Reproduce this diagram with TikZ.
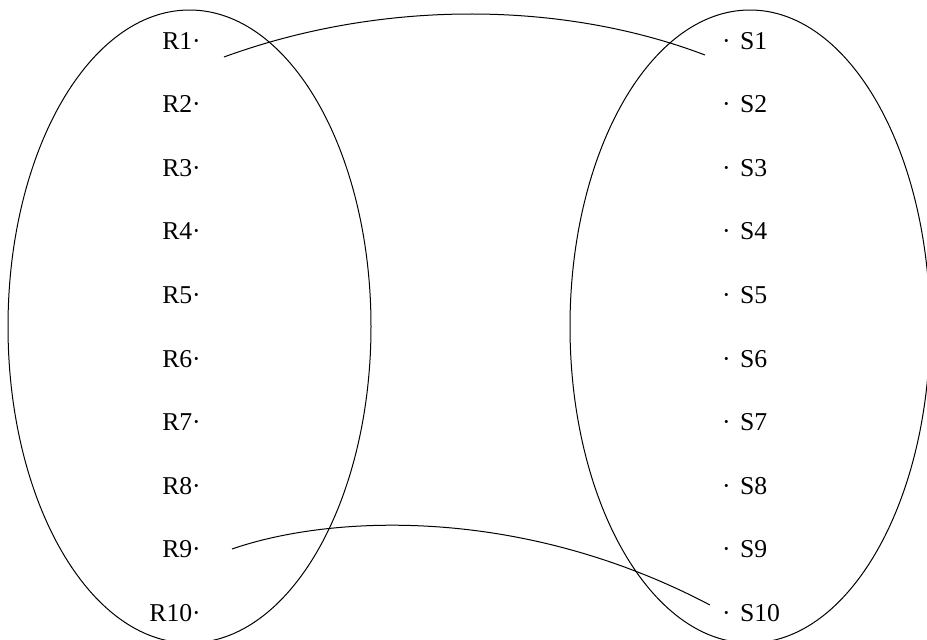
\documentclass[tikz,border=0pt]{standalone}
\usepackage{fontspec}
\setmainfont{Liberation Serif}
\tikzset{
  setline/.style={line width=1pt, draw=black},
  link/.style={line width=1pt, draw=black},
  elemtext/.style={inner sep=0pt, font=\fontsize{25.7}{30}\selectfont},
}

\begin{document}
\begin{tikzpicture}[x=1pt, y=-1pt]
  \clip (0,0) rectangle (927,640);
  % the two sets
  \draw[setline] (189.5,326.5) ellipse [x radius=181.5pt, y radius=316.5pt];
  \draw[setline] (750,326.5) ellipse [x radius=180pt, y radius=316.5pt];
  % elements R1..R10 and S1..S10
  \foreach \i in {1,...,10}{
    \pgfmathsetmacro{\yb}{49+63.6*(\i-1)}
    \node[elemtext, anchor=base east] (r\i) at (201,\yb) {R\i·};
    \node[elemtext, anchor=base west] (s\i) at (722,\yb) {·\hspace{0.36em}S\i};
  }
  % free ends of the links
  \coordinate (r1tip) at (224,57);
  \coordinate (s1tip) at (705,55);
  \coordinate (r9tip) at (232,549);
  \coordinate (s10tip) at (710,605);
  \draw[link] (r1tip) .. controls (380,0) and (560,0) .. (s1tip);
  \draw[link] (r9tip) .. controls (330,515) and (520,505) .. (s10tip);
\end{tikzpicture}
\end{document}
